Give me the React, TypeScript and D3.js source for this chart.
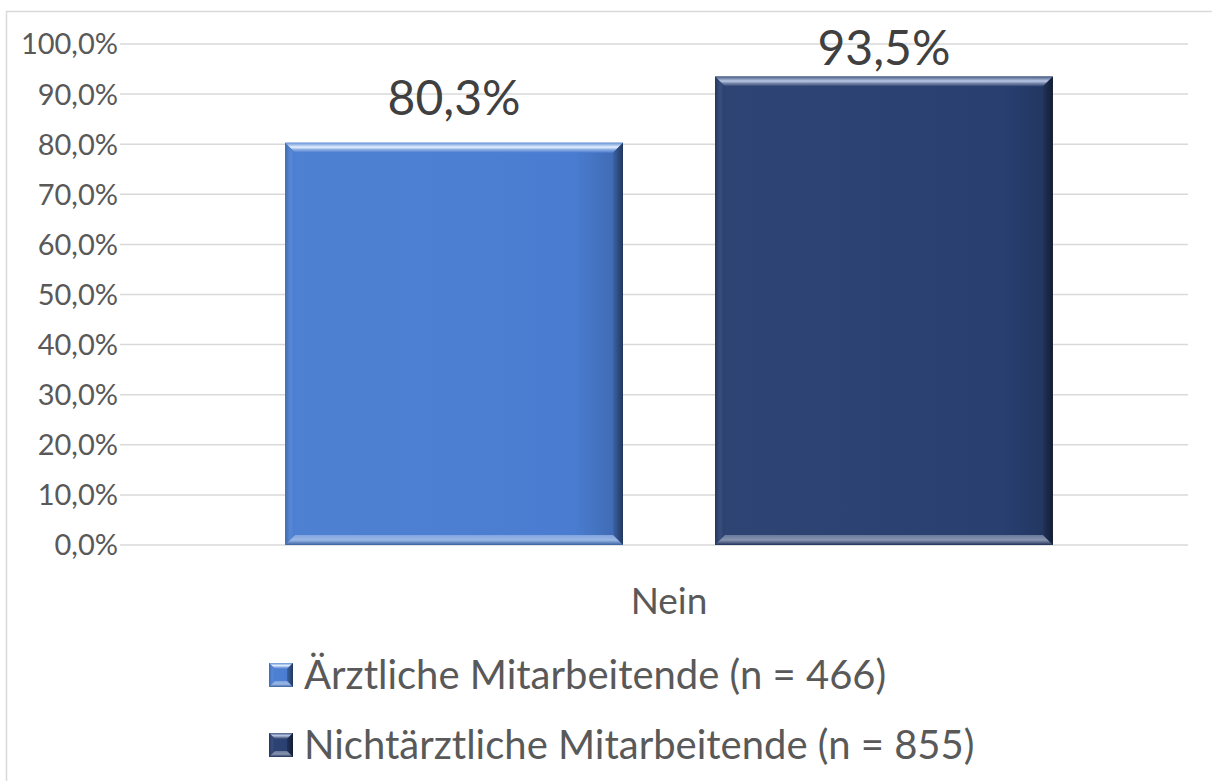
import { useEffect, useRef } from "react";
import * as d3 from "d3";

const CATEGORIES = ["Nein"];
const SERIES = ["Ärztliche Mitarbeitende (n = 466)", "Nichtärztliche Mitarbeitende (n = 855)"];
const VALUES = [0.803, 0.935];
const COLORS = ["#4a7dd1", "#283f70"];
const HILITE = ["#e4f0ff", "#b9c8e6"];
const DARK = ["#22365c", "#131d33"];
const TICKS = [0, 0.1, 0.2, 0.3, 0.4, 0.5, 0.6, 0.7, 0.8, 0.9, 1.0];

const W = 1212, H = 781;
const FONT = "Lato, 'Open Sans', sans-serif";
const fmt = (v: number) => (v * 100).toFixed(1).replace(".", ",") + "%";

type Sel = d3.Selection<SVGGElement, unknown, null, undefined>;

function bevel(g: Sel, defs: any, id: string, i: number, x0: number, x1: number, y0: number, y1: number, b: number) {
  const main = COLORS[i];
  const lg = (name: string, x2: number, y2: number, stops: [number, string][]) => {
    const grad = defs.append("linearGradient").attr("id", `${id}-${name}`)
      .attr("x1", 0).attr("y1", 0).attr("x2", x2).attr("y2", y2);
    stops.forEach(([o, c]) => grad.append("stop").attr("offset", o).attr("stop-color", c));
    return `url(#${id}-${name})`;
  };
  const lighter = d3.interpolateRgb(main, "#ffffff");
  const darker = d3.interpolateRgb(main, DARK[i]);

  g.append("rect").attr("x", x0).attr("y", y0).attr("width", x1 - x0).attr("height", y1 - y0)
    .attr("fill", lg("body", 1, 0, [[0, lighter(0.03)], [0.85, main], [1, darker(0.3)]]));

  const poly = (pts: [number, number][], fill: string) =>
    g.append("polygon").attr("points", pts.map((p) => p.join(",")).join(" ")).attr("fill", fill);

  poly([[x0, y0], [x1, y0], [x1 - b, y0 + b], [x0 + b, y0 + b]],
    lg("top", 0, 1, [[0, lighter(0.15)], [0.45, HILITE[i]], [0.7, lighter(0.35)], [1, main]]));
  poly([[x0, y0], [x0 + b, y0 + b], [x0 + b, y1 - b], [x0, y1]],
    lg("left", 1, 0, [[0, darker(0.25)], [0.5, lighter(0.08)], [1, main]]));
  poly([[x1, y0], [x1, y1], [x1 - b, y1 - b], [x1 - b, y0 + b]],
    lg("right", 1, 0, [[0, darker(0.35)], [1, DARK[i]]]));
  poly([[x0, y1], [x1, y1], [x1 - b, y1 - b], [x0 + b, y1 - b]],
    lg("bot", 0, 1, [[0, lighter(0.3)], [0.5, lighter(0.45)], [1, darker(0.4)]]));
}

export default function App() {
  const ref = useRef<SVGSVGElement>(null);

  useEffect(() => {
    if (!ref.current) return;
    const svg = d3.select(ref.current);
    svg.selectAll("*").remove();
    const defs = svg.append("defs");

    const margin = { left: 120, right: 24, top: 44, bottom: 236 };
    const plotR = W - margin.right;
    const y = d3.scaleLinear().domain([0, 1]).range([H - margin.bottom, margin.top]);
    const x0 = d3.scaleBand().domain(CATEGORIES).range([150, plotR]).paddingInner(0).paddingOuter(0.176);
    const x1 = d3.scaleBand().domain(SERIES).range([0, x0.bandwidth()]).paddingInner(0.214);

    // chart border
    svg.append("rect").attr("x", 6.5).attr("y", 11.5).attr("width", W).attr("height", H)
      .attr("fill", "#fff").attr("stroke", "#d9d9d9").attr("stroke-width", 1.5);

    // grid + ticks
    const grid = svg.append("g");
    TICKS.forEach((t) => {
      grid.append("line").attr("x1", margin.left).attr("x2", plotR)
        .attr("y1", y(t)).attr("y2", y(t)).attr("stroke", "#d9d9d9").attr("stroke-width", 1.5);
      grid.append("text").attr("x", 118).attr("y", y(t)).attr("dy", "0.36em")
        .attr("text-anchor", "end").attr("font-family", FONT).attr("font-size", 29)
        .attr("fill", "#595959").text(fmt(t));
    });

    // bars
    CATEGORIES.forEach((c) => {
      VALUES.forEach((v, i) => {
        const bx = (x0(c) ?? 0) + (x1(SERIES[i]) ?? 0);
        const g = svg.append("g");
        bevel(g, defs, `bar${i}`, i, bx, bx + x1.bandwidth(), y(v), y(0), 10);
        svg.append("text").attr("x", bx + x1.bandwidth() / 2)
          .attr("y", Math.max(y(v) - 28, 65))
          .attr("text-anchor", "middle").attr("font-family", FONT).attr("font-size", 48)
          .attr("fill", "#404040").text(fmt(v));
      });
      svg.append("text").attr("x", (x0(c) ?? 0) + x0.bandwidth() / 2).attr("y", 614)
        .attr("text-anchor", "middle").attr("font-family", FONT).attr("font-size", 37)
        .attr("fill", "#595959").text(c);
    });

    // legend
    const ly = d3.scalePoint().domain(SERIES).range([675, 745]);
    SERIES.forEach((s, i) => {
      const cy = ly(s) ?? 0;
      const g = svg.append("g");
      bevel(g, defs, `leg${i}`, i, 269, 293, cy - 12, cy + 12, 6);
      svg.append("text").attr("x", 304).attr("y", cy).attr("dy", "0.36em")
        .attr("font-family", FONT).attr("font-size", 40).attr("fill", "#595959").text(s);
    });
  }, []);

  return (
    <svg ref={ref} width={W} height={H}
      style={{ position: "absolute", left: 0, top: 0, background: "#fff" }} />
  );
}
